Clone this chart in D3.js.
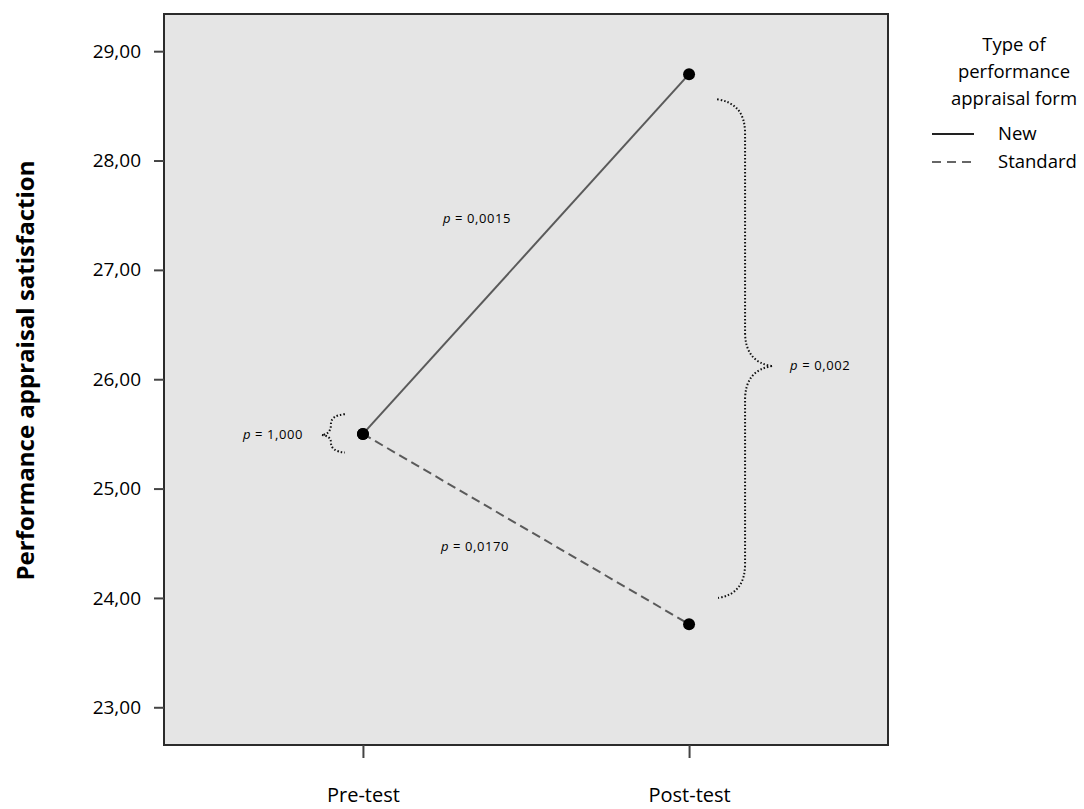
<!DOCTYPE html>
<html>
<head>
<meta charset="utf-8">
<script src="https://cdn.jsdelivr.net/npm/d3@7"></script>
<style>
  body { margin: 0; background: #fff; }
  text { font-family: "Open Sans", "Liberation Sans", sans-serif; fill: #000; }
</style>
</head>
<body>
<svg id="svg" width="1084" height="809"></svg>
<script>
// data
const phases = ['Pre-test', 'Post-test'];
const groups = ['New', 'Standard'];
const newValues = [25.50, 28.79];
const standardValues = [25.50, 23.76];
const yTicks = [23, 24, 25, 26, 27, 28, 29];
const pLabels = ['p = 0,0015', 'p = 0,0170', 'p = 1,000', 'p = 0,002'];

const svg = d3.select('#svg');
const frame = { left: 164, top: 14, right: 888, bottom: 745 };

const x = d3.scalePoint()
	.domain(phases)
	.range([frame.left, frame.right])
	.padding(0.61);
const y = d3.scaleLinear()
	.domain([22.655, 29.34])
	.range([frame.bottom, frame.top]);

const fmt = (d) => d3.format('.2f')(d).replace('.', ',');

// plot background + frame
svg.append('rect')
	.attr('x', frame.left).attr('y', frame.top)
	.attr('width', frame.right - frame.left).attr('height', frame.bottom - frame.top)
	.attr('fill', '#e5e5e5').attr('stroke', '#2b2b2b').attr('stroke-width', 2);

// y axis
const yAxis = svg.append('g')
	.attr('transform', `translate(${frame.left},0)`)
	.call(d3.axisLeft(y).tickValues(yTicks).tickFormat(fmt).tickSize(10).tickPadding(13));
yAxis.select('.domain').remove();
yAxis.selectAll('line').attr('stroke', '#444').attr('stroke-width', 2);
yAxis.selectAll('text').style('font-size', '19px').attr('fill', '#000');

// x axis
const xAxis = svg.append('g')
	.attr('transform', `translate(0,${frame.bottom})`)
	.call(d3.axisBottom(x).tickSize(13).tickPadding(30));
xAxis.select('.domain').remove();
xAxis.selectAll('line').attr('stroke', '#444').attr('stroke-width', 2);
xAxis.selectAll('text').style('font-size', '20px').attr('fill', '#000');

// y title
svg.append('text')
	.attr('transform', `translate(34,${(frame.top + frame.bottom) / 2 - 9}) rotate(-90)`)
	.attr('text-anchor', 'middle')
	.style('font-size', '24px')
	.style('font-weight', 'bold')
	.text('Performance appraisal satisfaction');

// lines
const line = d3.line()
	.x((d, i) => x(phases[i]))
	.y((d) => y(d));

svg.append('path')
	.datum(newValues)
	.attr('d', line)
	.attr('fill', 'none').attr('stroke', '#5a5a5a').attr('stroke-width', 2);
svg.append('path')
	.datum(standardValues)
	.attr('d', line)
	.attr('fill', 'none').attr('stroke', '#5a5a5a').attr('stroke-width', 2)
	.attr('stroke-dasharray', '9,5');

// points
[newValues, standardValues].forEach((vals) => {
	svg.selectAll(null)
		.data(vals)
		.enter()
		.append('circle')
		.attr('cx', (d, i) => x(phases[i]))
		.attr('cy', (d) => y(d))
		.attr('r', 6)
		.attr('fill', '#000');
});

// dotted braces
const xPost = x('Post-test');
const xPre = x('Pre-test');
const bigTop = y(28.56), bigBot = y(24.0), bigTip = y(26.12);
const bx0 = xPost + 28, bx1 = xPost + 56, bx2 = xPost + 83;
const bigBrace = d3.path();
bigBrace.moveTo(bx0, bigTop);
bigBrace.quadraticCurveTo(bx1, bigTop + 4, bx1, bigTop + 34);
bigBrace.lineTo(bx1, bigTip - 34);
bigBrace.quadraticCurveTo(bx1, bigTip - 4, bx2, bigTip);
bigBrace.moveTo(bx2, bigTip);
bigBrace.quadraticCurveTo(bx1, bigTip + 4, bx1, bigTip + 34);
bigBrace.lineTo(bx1, bigBot - 34);
bigBrace.quadraticCurveTo(bx1, bigBot - 4, bx0 + 1, bigBot);
svg.append('path')
	.attr('d', bigBrace.toString())
	.attr('fill', 'none').attr('stroke', '#111').attr('stroke-width', 2)
	.attr('stroke-dasharray', '1.5,2');

const smTop = y(25.68), smBot = y(25.33), smTip = y(25.49);
const sx0 = xPre - 18, sx1 = xPre - 32, sx2 = xPre - 41;
const smallBrace = d3.path();
smallBrace.moveTo(sx0, smTop);
smallBrace.quadraticCurveTo(sx1, smTop + 1, sx1, smTop + 10);
smallBrace.quadraticCurveTo(sx1, smTip - 1, sx2, smTip);
smallBrace.moveTo(sx2, smTip);
smallBrace.quadraticCurveTo(sx1, smTip + 1, sx1, smBot - 10);
smallBrace.quadraticCurveTo(sx1, smBot - 1, sx0, smBot);
svg.append('path')
	.attr('d', smallBrace.toString())
	.attr('fill', 'none').attr('stroke', '#111').attr('stroke-width', 2)
	.attr('stroke-dasharray', '1.5,2');

// p-value labels
const pPos = [
	{ x: xPre + 80, y: y(27.43) },
	{ x: xPre + 78, y: y(24.43) },
	{ x: xPre - 120, y: y(25.45) },
	{ x: xPost + 101, y: y(26.08) }
];
pLabels.forEach((lbl, i) => {
	const t = svg.append('text')
		.attr('x', pPos[i].x).attr('y', pPos[i].y)
		.style('font-size', '13px')
		.style('letter-spacing', '0.6px')
		.attr('xml:space', 'preserve');
	t.append('tspan').style('font-style', 'italic').text(lbl.slice(0, 1));
	t.append('tspan').text(lbl.slice(1));
});

// legend
const legend = svg.append('g');
['Type of', 'performance', 'appraisal form'].forEach((s, i) => {
	legend.append('text')
		.attr('x', 1014).attr('y', 51 + i * 27)
		.attr('text-anchor', 'middle')
		.style('font-size', '18.5px')
		.text(s);
});
groups.forEach((g, i) => {
	const yy = 134 + i * 28;
	legend.append('line')
		.attr('x1', 932).attr('x2', 974)
		.attr('y1', yy).attr('y2', yy)
		.attr('stroke', i === 0 ? '#222' : '#666')
		.attr('stroke-width', 2)
		.attr('stroke-dasharray', i === 0 ? null : '9,6');
	legend.append('text')
		.attr('x', 998).attr('y', yy + 6)
		.style('font-size', '18.5px')
		.text(g);
});
</script>
</body>
</html>
